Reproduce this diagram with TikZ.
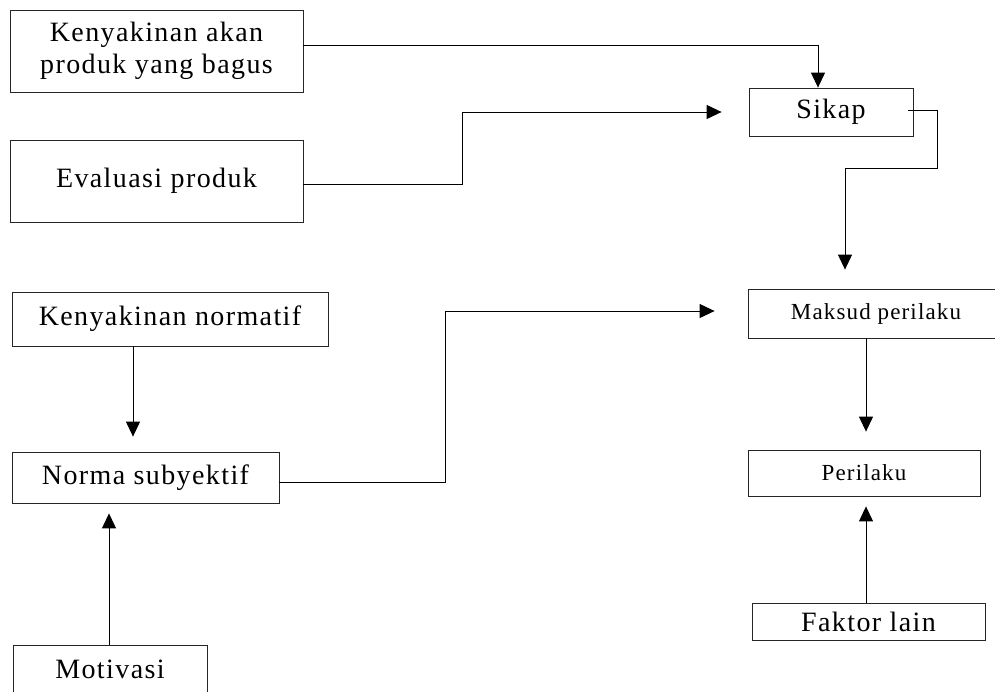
\documentclass[tikz,border=0pt]{standalone}
\usepackage{fontspec}
\setmainfont[LetterSpace=5]{Liberation Serif}
\usetikzlibrary{arrows.meta}
\begin{document}
\begin{tikzpicture}[x=1pt,y=-1pt,
  box/.style={draw=black!85,line width=0.8pt,inner sep=0pt,font=\fontsize{28}{32}\selectfont,align=center},
  smallbox/.style={box,font=\fontsize{23}{26}\selectfont},
  arr/.style={draw=black,line width=1pt,-{Triangle[length=15pt,width=14pt]}}]
\useasboundingbox (0,0) rectangle (995,691);
\fill[white] (0,0) rectangle (995,691);
\node[box,minimum width=293,minimum height=82] (k1) at (156.5,51) {Kenyakinan akan\\produk yang bagus};
\node[box,minimum width=293,minimum height=82] (ev) at (156.5,181) {Evaluasi produk};
\node[box,minimum width=164,minimum height=48] (sk) at (831,112) {Sikap};
\node[smallbox,minimum width=256,minimum height=49] (mp) at (876,313.5) {Maksud perilaku};
\node[smallbox,minimum width=232,minimum height=46] (pl) at (864,473) {Perilaku};
\node[box,minimum width=233,minimum height=37] (fl) at (868.5,621.5) {Faktor lain};
\node[box,minimum width=316,minimum height=54] (kn) at (170,319) {Kenyakinan normatif};
\node[box,minimum width=267,minimum height=51] (ns) at (145.5,477.5) {Norma subyektif};
\node[box,minimum width=194,minimum height=48] (mo) at (110,669) {Motivasi};

\draw[arr] ([yshift=6pt]k1.east) -| ([xshift=-13pt]sk.north);
\draw[arr] ([yshift=-3pt]ev.east) -- (462,184) |- ([xshift=-27pt]sk.west);
\draw[arr] ([xshift=-5pt,yshift=2pt]sk.east) -- (937,110) -- (937,168) -- (845,168) -- ([xshift=-31pt,yshift=19pt]mp.north);
\draw[arr] ([yshift=-4.5pt]ns.east) -- (445,482) |- ([xshift=-33pt,yshift=2.5pt]mp.west);
\draw[arr] ([xshift=-10pt]mp.south) -- ([xshift=2pt,yshift=18pt]pl.north);
\draw[arr] ([xshift=-2.5pt]fl.north) -- ([xshift=2pt,yshift=-10pt]pl.south);
\draw[arr] ([xshift=-37pt]kn.south) -- ([xshift=-12.5pt,yshift=15pt]ns.north);
\draw[arr] ([xshift=-1pt]mo.north) -- ([xshift=-36.5pt,yshift=-10pt]ns.south);
\end{tikzpicture}
\end{document}
